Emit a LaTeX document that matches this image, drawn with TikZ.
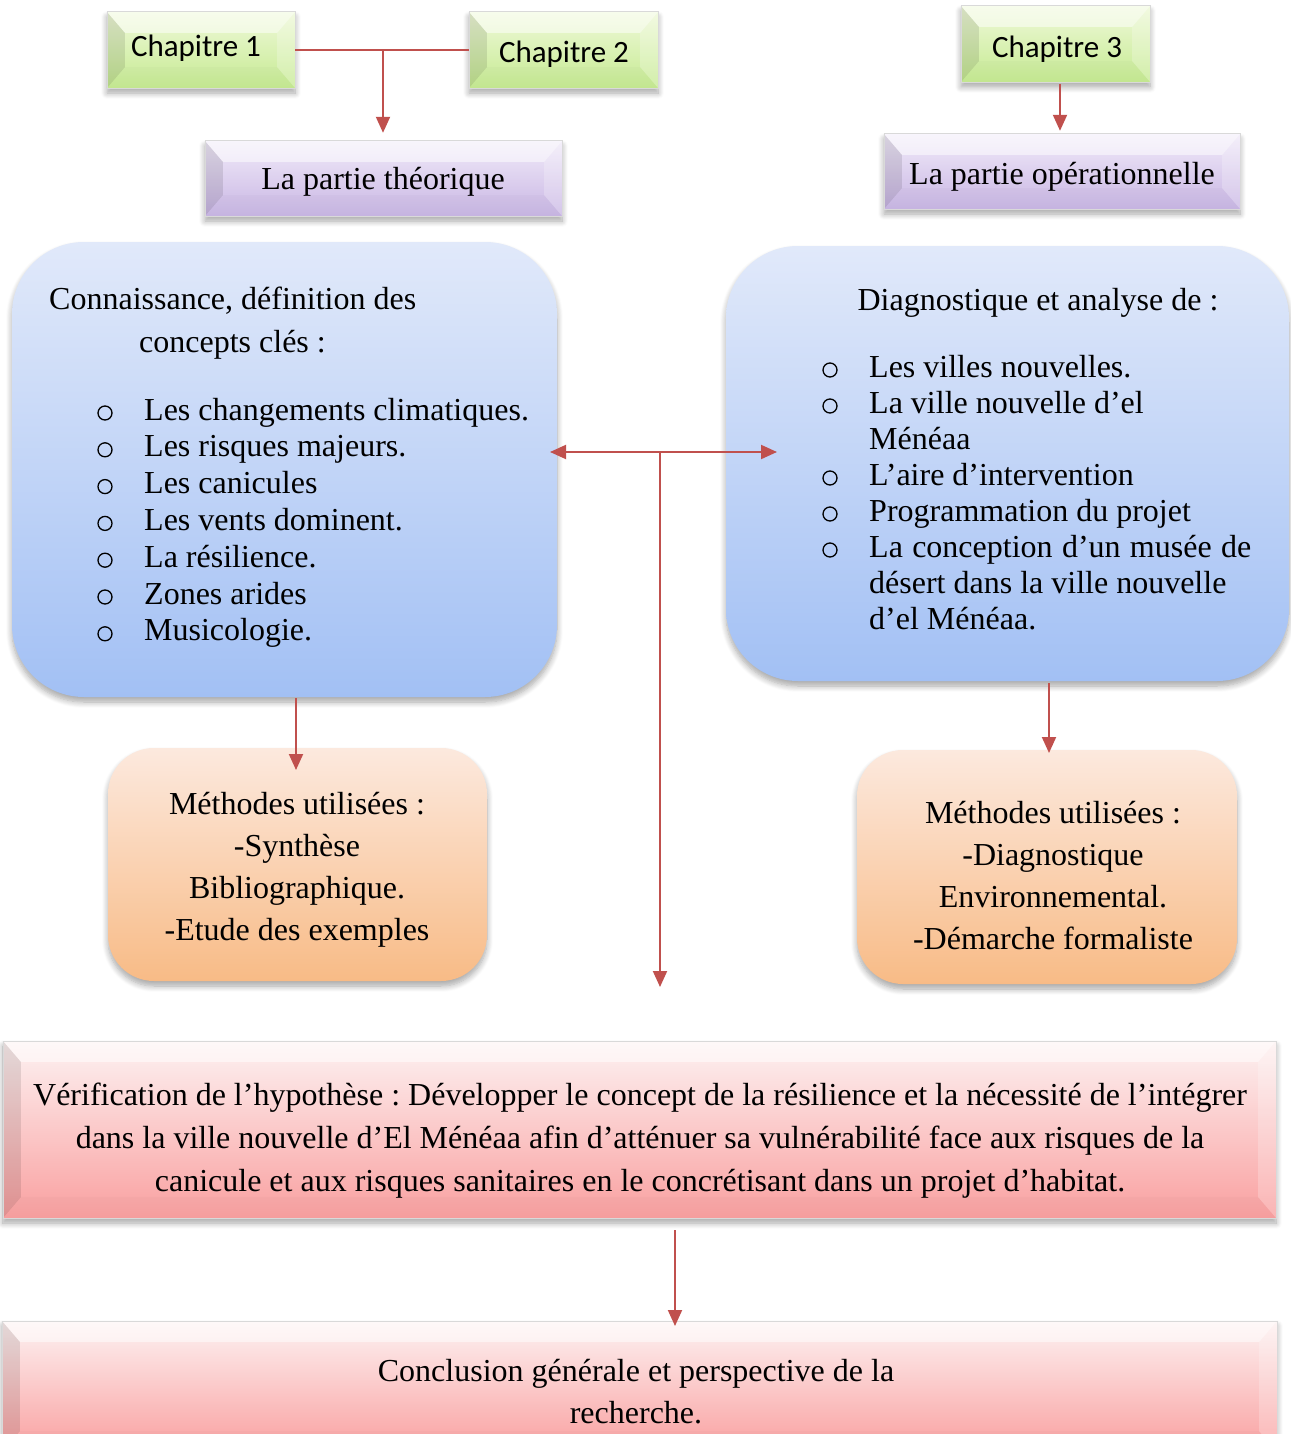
\documentclass[tikz,border=0pt]{standalone}
\usepackage{fontspec}
\setmainfont{Liberation Serif}
\newfontfamily\chapfont{Carlito}
\usetikzlibrary{arrows.meta,calc,fit,shadows.blur}
\frenchspacing

\definecolor{linkred}{HTML}{C0504D}
\definecolor{greentop}{HTML}{EFF9D9}
\definecolor{greenbot}{HTML}{C6EA92}
\definecolor{purptop}{HTML}{F1EBF9}
\definecolor{purpbot}{HTML}{C9B6E4}
\definecolor{pinktop}{HTML}{FDF2F2}
\definecolor{pinkbot}{HTML}{F9A0A0}
\definecolor{bluetop}{HTML}{E1E9FA}
\definecolor{bluebot}{HTML}{A2C0F4}
\definecolor{orangetop}{HTML}{FCE9DE}
\definecolor{orangebot}{HTML}{F8BB86}

\tikzset{
  txt/.style={inner sep=0pt, font=\fontsize{32}{36.8}\selectfont},
  chaptxt/.style={inner sep=0pt, font=\chapfont\fontsize{31}{37}\selectfont},
  boxshadow/.style={blur shadow={shadow xshift=0pt, shadow yshift=-5pt,
      shadow blur steps=8, shadow blur radius=6pt, shadow opacity=35}},
  greenface/.style={top color=greentop, bottom color=greenbot, boxshadow},
  purpleface/.style={top color=purptop, bottom color=purpbot, boxshadow},
  pinkface/.style={top color=pinktop, bottom color=pinkbot, boxshadow},
  softblue/.style={rounded corners=72pt, top color=bluetop, bottom color=bluebot, boxshadow},
  softorange/.style={rounded corners=46pt, top color=orangetop, bottom color=orangebot, boxshadow},
  ring/.style={draw=black, line width=1.3pt},
  link/.style={draw=linkred, line width=2pt},
  tip/.style={-{Triangle[length=16pt,width=14pt]}},
  bothtips/.style={{Triangle[length=16pt,width=14pt]}-{Triangle[length=16pt,width=14pt]}},
}

% rectangle with bevelled faces: name, x0, y0, x1, y1, face style
\newcommand\bevelbox[6]{%
  \node[fit={(#2,#3)(#4,#5)}, inner sep=0pt, #6] (#1) {};
  \fill[white,opacity=.5] (#1.north west) -- (#1.north east)
    -- ($(#1.north east)+(-18pt,-21pt)$) -- ($(#1.north west)+(18pt,-21pt)$) -- cycle;
  \fill[black,opacity=.1] (#1.north west) -- ($(#1.north west)+(18pt,-21pt)$)
    -- ($(#1.south west)+(18pt,21pt)$) -- (#1.south west) -- cycle;
  \fill[white,opacity=.22] (#1.north east) -- ($(#1.north east)+(-18pt,-21pt)$)
    -- ($(#1.south east)+(-18pt,21pt)$) -- (#1.south east) -- cycle;
  \fill[black,opacity=.015] (#1.south west) -- ($(#1.south west)+(18pt,21pt)$)
    -- ($(#1.south east)+(-18pt,21pt)$) -- (#1.south east) -- cycle;
  \draw[black!15,line width=.6pt] (#1.north west) rectangle (#1.south east);
}

\begin{document}
\begin{tikzpicture}[x=1pt,y=-1pt]
\useasboundingbox (0,0) rectangle (1290,1434);

% ---- chapter and part boxes
\bevelbox{c1}{107}{12}{295}{88}{greenface}
\bevelbox{c2}{469}{12}{658}{88}{greenface}
\bevelbox{c3}{961}{6}{1150}{82}{greenface}
\bevelbox{pt}{205}{141}{562}{216}{purpleface}
\bevelbox{op}{884}{134}{1240}{209}{purpleface}

\node[chaptxt] (c1t) at (196,48) {Chapitre 1};
\node[chaptxt] (c2t) at (564,54) {Chapitre 2};
\node[chaptxt] (c3t) at (1057,49) {Chapitre 3};
\node[txt] (ptt) at (383,182) {La partie théorique};
\node[txt] (opt) at (1062,177) {La partie opérationnelle};

% ---- content boxes
\node[fit={(12,242)(557,697)}, inner sep=0pt, softblue] (kn) {};
\node[fit={(726,246)(1289,681)}, inner sep=0pt, softblue] (dg) {};
\node[fit={(108,748)(487,981)}, inner sep=0pt, softorange] (ml) {};
\node[fit={(857,750)(1237,984)}, inner sep=0pt, softorange] (mr) {};

\node[txt, anchor=base west] (knh1) at (49,309) {Connaissance, définition des};
\node[txt, anchor=base west] (knh2) at (139,352) {concepts clés :};
% the base anchor of a multi-line node sits on its last line
\node[txt, anchor=base west, align=left] (knl) at (144,640.8) {%
  Les changements climatiques.\\
  Les risques majeurs.\\
  Les canicules\\
  Les vents dominent.\\
  La résilience.\\
  Zones arides\\
  Musicologie.};
% list bullets
\foreach \i in {0,...,6}
  \draw[ring] (105,413+36.8*\i) circle[radius=7pt];

\node[txt, anchor=base] (dgh) at (1038,310) {Diagnostique et analyse de :};
\node[txt, anchor=base west, align=left, font=\fontsize{32}{36}\selectfont] (dgl) at (869,629) {%
  Les villes nouvelles.\\
  La ville nouvelle d’el\\
  Ménéaa\\
  L’aire d’intervention\\
  Programmation du projet\\
  \makebox[382pt][s]{La conception d’un musée de}\\
  désert dans la ville nouvelle\\
  d’el Ménéaa.};
\foreach \i in {0,1,3,4,5}
  \draw[ring] (830,370+36*\i) circle[radius=7pt];

\node[txt, align=center, font=\fontsize{32}{42}\selectfont] (mlt) at (297,870)
  {Méthodes utilisées :\\-Synthèse\\Bibliographique.\\-Etude des exemples};
\node[txt, align=center, font=\fontsize{32}{42}\selectfont] (mrt) at (1053,876)
  {Méthodes utilisées :\\-Diagnostique\\Environnemental.\\-Démarche formaliste};

% ---- synthesis boxes
\bevelbox{ver}{3}{1041}{1276}{1218}{pinkface}
\bevelbox{con}{2}{1321}{1277}{1452}{pinkface}

\node[txt, align=center, font=\fontsize{32}{43}\selectfont] (vert) at (640,1141)
  {Vérification de l’hypothèse : Développer le concept de la résilience et la nécessité de l’intégrer\\
   dans la ville nouvelle d’El Ménéaa afin d’atténuer sa vulnérabilité face aux risques de la\\
   canicule et aux risques sanitaires en le concrétisant dans un projet d’habitat.};
\node[txt, align=center, font=\fontsize{32}{42}\selectfont] (cont) at (636,1392)
  {Conclusion générale et perspective de la\\recherche.};

% ---- connectors
\coordinate (j1) at (383,50);
\coordinate (c3o) at (1060,84);
\coordinate (hub) at (660,452);
\coordinate (hubl) at (550,452);
\coordinate (hubr) at (777,452);
\coordinate (hubd) at (660,987);
\coordinate (kno) at (296,698);
\coordinate (mli) at (296,770);
\coordinate (dgo) at (1049,683);
\coordinate (mri) at (1049,753);
\coordinate (vero) at (675,1230);
\coordinate (coni) at (675,1326);

\draw[link] (c1.east) -- (c2.west);
\draw[link, tip] (j1) -- ($(j1 |- pt.north)+(0,-8)$);
\draw[link, tip] (c3o) -- ($(c3o |- op.north)+(0,-3)$);
\draw[link, bothtips] (hubl) -- (hubr);
\draw[link, tip] (hub) -- (hubd);
\draw[link, tip] (kno) -- (mli);
\draw[link, tip] (dgo) -- (mri);
\draw[link, tip] (vero) -- (coni);
\end{tikzpicture}
\end{document}
